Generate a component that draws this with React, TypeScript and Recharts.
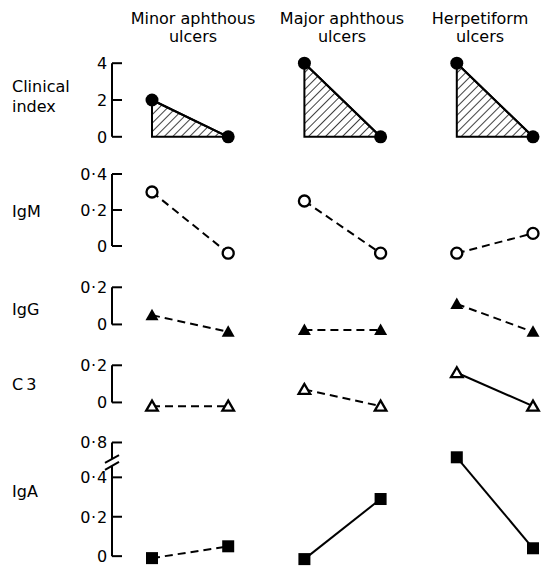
import React from 'react';
import { ComposedChart, Line, Area, XAxis, YAxis, ReferenceLine } from 'recharts';

// ulcer types (columns) and the two time points of each pair
const ulcerTypes = ['Minor aphthous', 'Major aphthous', 'Herpetiform'];

const clinicalBefore = [2, 4, 4];
const clinicalAfter = [0, 0, 0];

const igmBefore = [0.3, 0.25, -0.04];
const igmAfter = [-0.04, -0.04, 0.07];

const iggBefore = [0.05, -0.03, 0.11];
const iggAfter = [-0.04, -0.03, -0.04];

const c3Before = [-0.02, 0.07, 0.16];
const c3After = [-0.02, -0.02, -0.02];

const igaBefore = [-0.01, -0.015, 0.63];
const igaAfter = [0.05, 0.29, 0.04];

// which pairs are joined by a solid line (the rest are dashed)
const igmSolid = [false, false, false];
const iggSolid = [false, false, false];
const c3Solid = [false, false, true];
const igaSolid = [false, true, true];

const clinicalTicks = [0, 2, 4];
const clinicalTickLabels = ['0', '2', '4'];
const igmTicks = [0, 0.2, 0.4];
const igmTickLabels = ['0', '0·2', '0·4'];
const smallTicks = [0, 0.2];
const smallTickLabels = ['0', '0·2'];
const igaTickValues = [0, 0.2, 0.4, 0.8];
const igaTickLabels = ['0', '0·2', '0·4', '0·8'];

const FONT = '"DejaVu Sans", sans-serif';
const X_DOMAIN: [number, number] = [-0.525, 5.105];
const AXIS_X = X_DOMAIN[0];
const STROKE = 2;

// broken IgA axis: above 0.4 the scale is compressed
const igaBreak = (v: number) => (v <= 0.4 ? v : 0.4 + (v - 0.4) * 0.4425);

const pair = (before: number[], after: number[], i: number, f = (v: number) => v) => [
  { x: 2 * i, y: f(before[i]) },
  { x: 2 * i + 1, y: f(after[i]) }
];

type MarkerKind = 'filledCircle' | 'openCircle' | 'filledTriangle' | 'openTriangle' | 'filledSquare';

const renderMarker = (kind: MarkerKind) => (p: any) => {
  const { cx, cy, index } = p;
  const key = `m-${index}-${cx}`;
  if (cx == null || cy == null) return <g key={key} />;
  switch (kind) {
    case 'filledCircle':
      return <circle key={key} cx={cx} cy={cy} r={6.5} fill="#000" />;
    case 'openCircle':
      return <circle key={key} cx={cx} cy={cy} r={5.5} fill="#fff" stroke="#000" strokeWidth={2.3} />;
    case 'filledTriangle':
      return (
        <polygon
          key={key}
          points={`${cx},${cy - 6.5} ${cx - 6.5},${cy + 5} ${cx + 6.5},${cy + 5}`}
          fill="#000"
        />
      );
    case 'openTriangle':
      return (
        <polygon
          key={key}
          points={`${cx},${cy - 5.5} ${cx - 5.8},${cy + 4.5} ${cx + 5.8},${cy + 4.5}`}
          fill="#fff"
          stroke="#000"
          strokeWidth={2.3}
          strokeLinejoin="miter"
        />
      );
    default:
      return <rect key={key} x={cx - 6} y={cy - 6} width={12} height={12} fill="#000" />;
  }
};

const AxisTick = (props: any) => {
  const { x, y, payload, ticks, labels } = props;
  const idx = ticks.findIndex((t: number) => Math.abs(t - payload.value) < 1e-6);
  return (
    <g>
      <line x1={x + 4} x2={x + 14} y1={y} y2={y} stroke="#000" strokeWidth={STROKE} />
      <text
        x={x}
        y={y}
        dy="0.36em"
        textAnchor="end"
        fontSize={16}
        letterSpacing={0.8}
        fontFamily={FONT}
        fill="#000"
      >
        {idx >= 0 ? labels[idx] : ''}
      </text>
    </g>
  );
};

interface PanelRowProps {
  top: number;
  height: number;
  domain: [number, number];
  ticks: number[];
  labels: string[];
  children: React.ReactNode;
  axis?: React.ReactNode;
}

const PanelRow: React.FC<PanelRowProps> = ({ top, height, domain, ticks, labels, children, axis }) => (
  <div style={{ position: 'absolute', left: 0, top }}>
    <ComposedChart width={541} height={height} margin={{ top: 0, right: 0, bottom: 0, left: 0 }}>
      <defs>
        <pattern id="hatch" patternUnits="userSpaceOnUse" width="6" height="6" patternTransform="rotate(45)">
          <line x1="0" y1="0" x2="0" y2="6" stroke="#000" strokeWidth="1.5" />
        </pattern>
      </defs>
      <XAxis type="number" dataKey="x" domain={X_DOMAIN} hide />
      <YAxis
        type="number"
        dataKey="y"
        domain={domain}
        ticks={ticks}
        width={112}
        tickSize={0}
        tickMargin={4}
        axisLine={false}
        tickLine={false}
        interval={0}
        tick={(p: any) => <AxisTick {...p} ticks={ticks} labels={labels} />}
      />
      {axis ?? (
        <ReferenceLine
          segment={[{ x: AXIS_X, y: 0 }, { x: AXIS_X, y: ticks[ticks.length - 1] }]}
          stroke="#000"
          strokeWidth={STROKE}
          ifOverflow="visible"
        />
      )}
      {children}
    </ComposedChart>
  </div>
);

const pairLines = (
  name: string,
  before: number[],
  after: number[],
  solid: boolean[],
  marker: MarkerKind,
  f?: (v: number) => number
) =>
  ulcerTypes.map((_, i) => (
    <Line
      key={`${name}-${i}`}
      data={pair(before, after, i, f)}
      dataKey="y"
      type="linear"
      stroke="#000"
      strokeWidth={STROKE}
      strokeDasharray={solid[i] ? undefined : '8 5'}
      dot={renderMarker(marker)}
      activeDot={false}
      isAnimationActive={false}
    />
  ));

const labelStyle: React.CSSProperties = {
  position: 'absolute',
  left: 12,
  fontSize: 16,
  lineHeight: '20px',
  fontFamily: FONT,
  color: '#000'
};

const headerCenters = [193, 342, 480];

export default function App() {
  const igaTicks = igaTickValues.map(igaBreak);
  return (
    <div
      style={{
        position: 'absolute',
        left: 0,
        top: 0,
        width: 541,
        height: 566,
        overflow: 'hidden',
        background: '#fff',
        fontFamily: FONT
      }}
    >
      {ulcerTypes.map((t, i) => (
        <div
          key={t}
          style={{
            position: 'absolute',
            left: headerCenters[i] - 90,
            width: 180,
            top: 10,
            textAlign: 'center',
            fontSize: 16,
            lineHeight: '18px',
            color: '#000'
          }}
        >
          {t}
          <br />
          ulcers
        </div>
      ))}

      <div style={{ ...labelStyle, top: 77 }}>
        Clinical
        <br />
        index
      </div>
      <div style={{ ...labelStyle, top: 202 }}>IgM</div>
      <div style={{ ...labelStyle, top: 300 }}>IgG</div>
      <div style={{ ...labelStyle, top: 375, letterSpacing: 3 }}>C3</div>
      <div style={{ ...labelStyle, top: 482 }}>IgA</div>

      <PanelRow top={54} height={92} domain={[-0.5, 4.5]} ticks={clinicalTicks} labels={clinicalTickLabels}>
        {ulcerTypes.map((_, i) => (
          <Area
            key={`ci-area-${i}`}
            data={pair(clinicalBefore, clinicalAfter, i)}
            dataKey="y"
            type="linear"
            baseValue={0}
            fill="url(#hatch)"
            fillOpacity={1}
            stroke="#000"
            strokeWidth={STROKE}
            dot={false}
            activeDot={false}
            isAnimationActive={false}
          />
        ))}
        {ulcerTypes.map((_, i) => (
          <Line
            key={`ci-edge-${i}`}
            data={[
              { x: 2 * i, y: clinicalBefore[i] },
              { x: 2 * i, y: clinicalAfter[i] },
              { x: 2 * i + 1, y: clinicalAfter[i] }
            ]}
            dataKey="y"
            type="linear"
            stroke="#000"
            strokeWidth={STROKE}
            dot={false}
            activeDot={false}
            isAnimationActive={false}
          />
        ))}
        {pairLines('ci', clinicalBefore, clinicalAfter, [true, true, true], 'filledCircle')}
      </PanelRow>

      <PanelRow top={156} height={108} domain={[-0.1, 0.5]} ticks={igmTicks} labels={igmTickLabels}>
        {pairLines('igm', igmBefore, igmAfter, igmSolid, 'openCircle')}
      </PanelRow>

      <PanelRow top={278} height={65} domain={[-0.1, 0.25]} ticks={smallTicks} labels={smallTickLabels}>
        {pairLines('igg', iggBefore, iggAfter, iggSolid, 'filledTriangle')}
      </PanelRow>

      <PanelRow top={356} height={65} domain={[-0.1, 0.25]} ticks={smallTicks} labels={smallTickLabels}>
        {pairLines('c3', c3Before, c3After, c3Solid, 'openTriangle')}
      </PanelRow>

      <PanelRow
        top={434}
        height={132}
        domain={[-0.05, 0.62]}
        ticks={igaTicks}
        labels={igaTickLabels}
        axis={
          <>
            <ReferenceLine
              segment={[{ x: AXIS_X, y: 0 }, { x: AXIS_X, y: 0.458 }]}
              stroke="#000"
              strokeWidth={STROKE}
              ifOverflow="visible"
            />
            <ReferenceLine
              segment={[{ x: AXIS_X, y: 0.493 }, { x: AXIS_X, y: igaBreak(0.8) }]}
              stroke="#000"
              strokeWidth={STROKE}
              ifOverflow="visible"
            />
            <ReferenceLine
              segment={[{ x: AXIS_X - 0.092, y: 0.473 }, { x: AXIS_X + 0.092, y: 0.513 }]}
              stroke="#000"
              strokeWidth={STROKE}
              ifOverflow="visible"
            />
            <ReferenceLine
              segment={[{ x: AXIS_X - 0.092, y: 0.438 }, { x: AXIS_X + 0.092, y: 0.478 }]}
              stroke="#000"
              strokeWidth={STROKE}
              ifOverflow="visible"
            />
          </>
        }
      >
        {pairLines('iga', igaBefore, igaAfter, igaSolid, 'filledSquare', igaBreak)}
      </PanelRow>
    </div>
  );
}
